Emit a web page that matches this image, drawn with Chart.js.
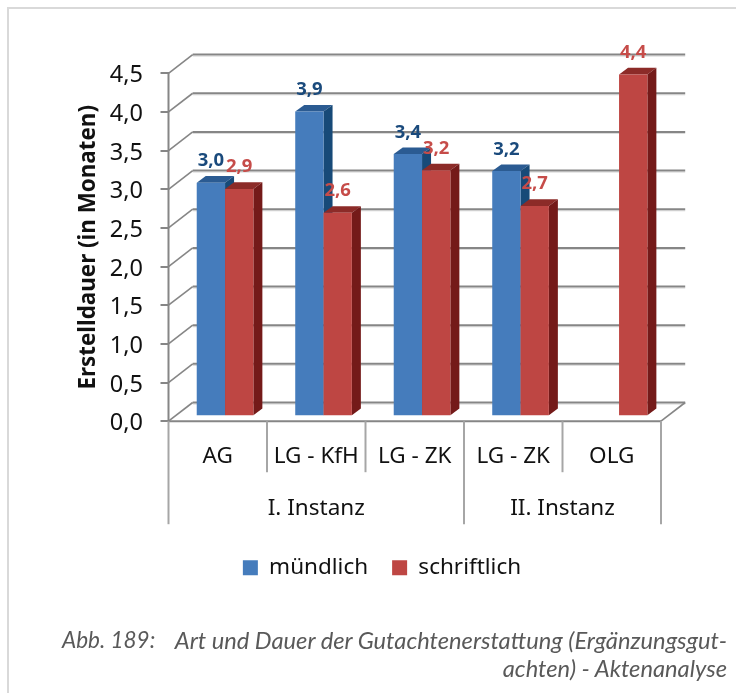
<!DOCTYPE html>
<html lang="de">
<head>
<meta charset="utf-8">
<title>Art und Dauer der Gutachtenerstattung</title>
<script src="https://cdn.jsdelivr.net/npm/chart.js@4"></script>
<style>
html,body{margin:0;padding:0;background:#fff;width:736px;height:693px;overflow:hidden}
#frame{position:absolute;left:7px;top:7px;right:0;bottom:0;border-left:2px solid #d9d9d9;border-top:2px solid #d9d9d9}
#wrap{position:absolute;left:0;top:0;width:736px;height:693px}
.cap{position:absolute;font:italic 23.7px Lato,sans-serif;color:#595959;white-space:nowrap;line-height:26px}
</style>
</head>
<body>
<div id="frame"></div>
<div id="wrap"><canvas id="c" width="736" height="693"></canvas></div>
<div class="cap" style="left:62px;top:627px;font-size:22.5px">Abb. 189:</div>
<div class="cap" style="right:9px;top:627px">Art und Dauer der Gutachtenerstattung (Ergänzungsgut-</div>
<div class="cap" style="right:9px;top:655px">achten) - Aktenanalyse</div>
<script>
const categories = ['AG', 'LG - KfH', 'LG - ZK', 'LG - ZK', 'OLG'];
const groupLabels = ['I. Instanz', 'II. Instanz'];
const groupSpans = [3, 2];
const muendlich = [3.02, 3.94, 3.39, 3.17, null];
const schriftlich = [2.94, 2.63, 3.18, 2.72, 4.42];
const yTitle = 'Erstelldauer (in Monaten)';

const FONT = '"Noto Sans", "Open Sans", sans-serif';
const AXIS = '#868686', SEP = '#a6a6a6', SHADOW = '#dcdcdc';
const WALL = {dx: 24.2, dy: 18.7};
const BAR = {dx: 7.3, dy: -5, depthX: 9, depthY: 6.7};
const PALETTE = [
  {front: '#457cbc', top: '#2b5b92', side: '#174a78', label: '#1a4a7c'},
  {front: '#be4643', top: '#8c2b28', side: '#741a19', label: '#c64c49'}
];

function line(ctx, x1, y1, x2, y2, color, width) {
  ctx.beginPath();
  ctx.moveTo(x1, y1);
  ctx.lineTo(x2, y2);
  ctx.strokeStyle = color;
  ctx.lineWidth = width;
  ctx.stroke();
}
function poly(ctx, pts, color) {
  ctx.beginPath();
  pts.forEach((p, i) => i ? ctx.lineTo(p[0], p[1]) : ctx.moveTo(p[0], p[1]));
  ctx.closePath();
  ctx.fillStyle = color;
  ctx.fill();
}

const walls = {
  id: 'walls',
  beforeDatasetsDraw(chart) {
    const {ctx, chartArea: a, scales: {y}} = chart;
    ctx.save();
    y.ticks.forEach(t => {
      const py = y.getPixelForValue(t.value);
      const backY = py - WALL.dy;
      line(ctx, a.left + WALL.dx, backY + 1.6, a.right + WALL.dx, backY + 1.6, SHADOW, 1);
      line(ctx, a.left, py, a.left + WALL.dx, backY, AXIS, 1.6);
      line(ctx, a.left + WALL.dx, backY, a.right + WALL.dx, backY, AXIS, 2);
    });
    const p0 = y.getPixelForValue(0);
    line(ctx, a.right, p0, a.right + WALL.dx, p0 - WALL.dy, AXIS, 1.6);
    line(ctx, a.left, a.top, a.left, p0, AXIS, 2);
    ctx.restore();
  }
};

const bars3d = {
  id: 'bars3d',
  // Chart.js paints datasets last-to-first; the 3D overlap needs first-to-last.
  beforeDatasetsDraw(chart) {
    const {ctx} = chart;
    ctx.save();
    ctx.translate(BAR.dx, BAR.dy);
    chart.data.datasets.forEach((ds, di) => {
      const pal = PALETTE[di];
      chart.getDatasetMeta(di).data.forEach((el, i) => {
        if (ds.data[i] == null) return;
        const p = el.getProps(['x', 'y', 'base', 'width'], true);
        const l = p.x - p.width / 2, r = p.x + p.width / 2;
        const dx = BAR.depthX, dy = BAR.depthY;
        poly(ctx, [[l, p.y], [r, p.y], [r + dx, p.y - dy], [l + dx, p.y - dy]], pal.top);
        poly(ctx, [[r, p.y], [r + dx, p.y - dy], [r + dx, p.base - dy], [r, p.base]], pal.side);
        el.draw(ctx);
      });
    });
    ctx.restore();
  },
  beforeDatasetDraw() {
    return false;
  },
  afterDatasetsDraw(chart) {
    const {ctx} = chart;
    ctx.save();
    ctx.font = 'bold 18.5px ' + FONT;
    ctx.textAlign = 'center';
    ctx.textBaseline = 'alphabetic';
    chart.data.datasets.forEach((ds, di) => {
      const meta = chart.getDatasetMeta(di);
      ds.data.forEach((v, i) => {
        if (v == null) return;
        const el = meta.data[i];
        ctx.fillStyle = PALETTE[di].label;
        ctx.fillText(v.toFixed(1).replace('.', ','), el.x + BAR.dx, el.y + BAR.dy - 16.5);
      });
    });
    ctx.restore();
  }
};

const multiLevel = {
  id: 'multiLevel',
  afterDraw(chart) {
    const {ctx, chartArea: a} = chart;
    const step = (a.right - a.left) / categories.length;
    ctx.save();
    line(ctx, a.left, a.bottom, a.right, a.bottom, AXIS, 2);
    let start = 0;
    const ends = [0];
    groupSpans.forEach(n => { start += n; ends.push(start); });
    for (let i = 0; i <= categories.length; i++) {
      const px = a.left + i * step;
      const long = ends.includes(i);
      line(ctx, px, a.bottom, px, long ? a.bottom + 103 : a.bottom + 51, SEP, 2);
    }
    ctx.fillStyle = '#111';
    ctx.font = '22.5px ' + FONT;
    ctx.textAlign = 'center';
    ctx.textBaseline = 'middle';
    groupLabels.forEach((g, i) => {
      const mid = a.left + (ends[i] + ends[i + 1]) / 2 * step;
      ctx.fillText(g, mid, a.bottom + 87.5);
    });
    ctx.restore();
  }
};

new Chart(document.getElementById('c'), {
  type: 'bar',
  data: {
    labels: categories,
    datasets: [
      {label: 'mündlich', data: muendlich, backgroundColor: PALETTE[0].front},
      {label: 'schriftlich', data: schriftlich, backgroundColor: PALETTE[1].front}
    ]
  },
  plugins: [walls, bars3d, multiLevel],
  options: {
    responsive: false,
    animation: false,
    categoryPercentage: 0.575,
    barPercentage: 1,
    layout: {padding: {left: 103, right: 75, top: 73.3, bottom: 104}},
    plugins: {
      title: {display: false},
      tooltip: {enabled: false},
      legend: {
        position: 'bottom',
        align: 'center',
        labels: {
          boxWidth: 15, boxHeight: 15, padding: 24,
          color: '#111',
          font: {family: FONT, size: 22.5}
        }
      }
    },
    scales: {
      x: {
        grid: {display: false},
        border: {display: false},
        ticks: {color: '#111', font: {family: FONT, size: 22.5}, padding: 14, maxRotation: 0, autoSkip: false},
        afterFit(s) { s.height = 111.3; }
      },
      y: {
        min: 0, max: 4.5,
        afterFit(s) { s.width = 65.5; },
        afterBuildTicks(s) {
          s.ticks = [0, 0.5, 1, 1.5, 2, 2.5, 3, 3.5, 4, 4.5].map(value => ({value}));
        },
        grid: {drawOnChartArea: false, color: AXIS, lineWidth: 2, tickLength: 8},
        border: {display: false},
        ticks: {
          color: '#111',
          font: {family: FONT, size: 23.5},
          padding: 17.5,
          labelOffset: 2.5,
          callback: v => v.toFixed(1).replace('.', ',')
        },
        title: {
          display: true,
          text: yTitle,
          color: '#111',
          font: {family: FONT, size: 22.4, weight: 'bold'},
          padding: {top: -27.5, bottom: 0}
        }
      }
    }
  }
});
</script>
</body>
</html>
